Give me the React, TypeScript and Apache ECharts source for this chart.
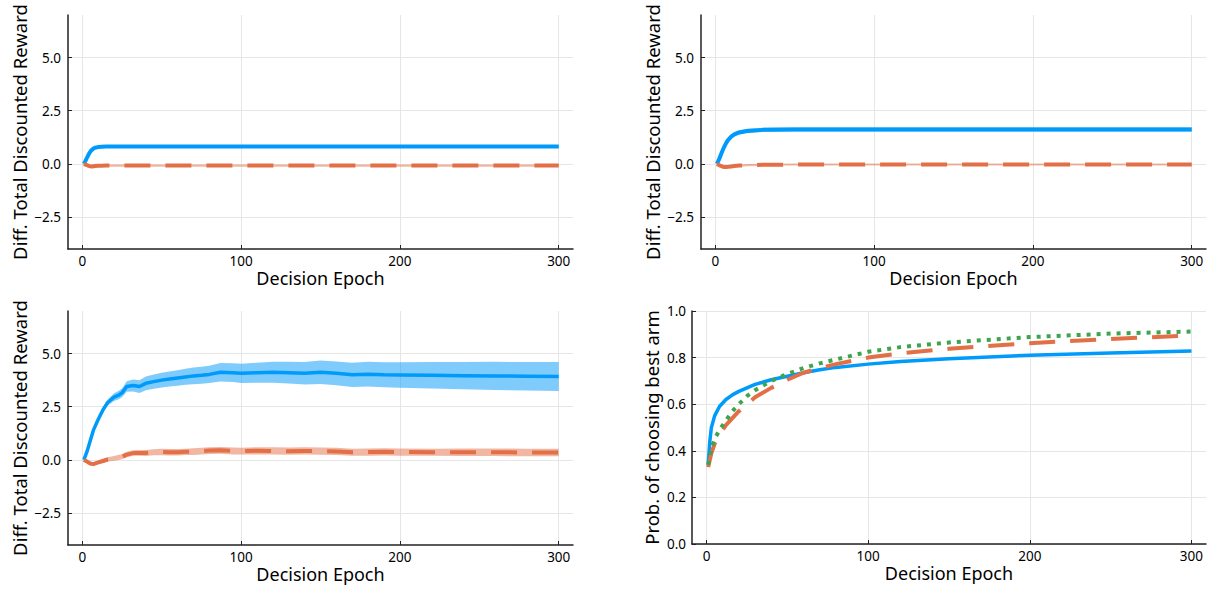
import React, { useEffect, useRef } from "react";
import * as echarts from "echarts";

// ---------- data ----------
const xTicks = [0, 100, 200, 300];
const rewardTicks = [-2.5, 0, 2.5, 5];

// Panel 1 (top-left)
const x1 = [1, 2, 3, 4, 5, 6, 7, 8, 10, 12, 15, 20, 30, 50, 100, 150, 200, 250, 300];
const p1BlueMean = [0, 0.14, 0.3, 0.45, 0.57, 0.66, 0.72, 0.76, 0.79, 0.81, 0.82, 0.82, 0.82, 0.82, 0.82, 0.82, 0.82, 0.82, 0.82];
const p1BlueLow = [0, 0.1, 0.25, 0.39, 0.5, 0.59, 0.65, 0.69, 0.72, 0.74, 0.75, 0.75, 0.75, 0.75, 0.75, 0.75, 0.75, 0.75, 0.75];
const p1BlueHigh = [0, 0.18, 0.35, 0.51, 0.64, 0.73, 0.79, 0.83, 0.86, 0.88, 0.89, 0.89, 0.89, 0.89, 0.89, 0.89, 0.89, 0.89, 0.89];
const p1OrangeMean = [0, -0.03, -0.06, -0.09, -0.11, -0.12, -0.11, -0.1, -0.09, -0.09, -0.08, -0.08, -0.08, -0.08, -0.08, -0.08, -0.08, -0.08, -0.08];
const p1OrangeLow = [0, -0.07, -0.11, -0.14, -0.16, -0.17, -0.16, -0.15, -0.14, -0.14, -0.13, -0.13, -0.13, -0.13, -0.13, -0.13, -0.13, -0.13, -0.13];
const p1OrangeHigh = [0, 0.01, -0.01, -0.04, -0.06, -0.07, -0.06, -0.05, -0.04, -0.04, -0.03, -0.03, -0.03, -0.03, -0.03, -0.03, -0.03, -0.03, -0.03];

// Panel 2 (top-right)
const x2 = [1, 2, 3, 4, 5, 6, 7, 8, 10, 12, 15, 20, 30, 50, 100, 150, 200, 250, 300];
const p2BlueMean = [0, 0.15, 0.33, 0.52, 0.7, 0.86, 1.0, 1.12, 1.28, 1.39, 1.48, 1.55, 1.6, 1.62, 1.62, 1.62, 1.62, 1.62, 1.62];
const p2BlueLow = [0, 0.1, 0.26, 0.44, 0.61, 0.77, 0.9, 1.02, 1.18, 1.29, 1.38, 1.45, 1.5, 1.52, 1.52, 1.52, 1.52, 1.52, 1.52];
const p2BlueHigh = [0, 0.2, 0.4, 0.6, 0.79, 0.95, 1.1, 1.22, 1.38, 1.49, 1.58, 1.65, 1.7, 1.72, 1.72, 1.72, 1.72, 1.72, 1.72];
const p2OrangeMean = [0, -0.04, -0.08, -0.11, -0.14, -0.15, -0.15, -0.14, -0.12, -0.1, -0.08, -0.06, -0.04, -0.03, -0.03, -0.03, -0.03, -0.03, -0.03];
const p2OrangeLow = [0, -0.08, -0.13, -0.16, -0.19, -0.2, -0.2, -0.19, -0.17, -0.15, -0.13, -0.11, -0.09, -0.08, -0.08, -0.08, -0.08, -0.08, -0.08];
const p2OrangeHigh = [0, 0.0, -0.03, -0.06, -0.09, -0.1, -0.1, -0.09, -0.07, -0.05, -0.03, -0.01, 0.01, 0.02, 0.02, 0.02, 0.02, 0.02, 0.02];

// Panel 3 (bottom-left)
const x3 = [1, 3, 5, 7, 10, 13, 16, 20, 23, 25, 28, 32, 36, 40, 45, 50, 55, 60, 65, 70, 75, 80, 87, 95, 100, 110, 120, 130, 140, 150, 160, 170, 180, 190, 200, 220, 240, 260, 280, 300];
const p3BlueMean = [0, 0.4, 0.9, 1.4, 1.9, 2.35, 2.7, 2.95, 3.05, 3.15, 3.45, 3.5, 3.45, 3.6, 3.68, 3.75, 3.8, 3.85, 3.9, 3.95, 3.98, 4.02, 4.12, 4.1, 4.07, 4.1, 4.12, 4.1, 4.07, 4.12, 4.07, 4.0, 4.03, 4.0, 3.99, 3.98, 3.96, 3.95, 3.93, 3.92];
const p3BlueLow = [0, 0.35, 0.83, 1.31, 1.78, 2.22, 2.56, 2.77, 2.85, 2.94, 3.2, 3.22, 3.15, 3.28, 3.34, 3.4, 3.45, 3.49, 3.53, 3.56, 3.58, 3.61, 3.69, 3.66, 3.62, 3.63, 3.63, 3.59, 3.54, 3.57, 3.51, 3.43, 3.45, 3.41, 3.39, 3.36, 3.32, 3.29, 3.26, 3.24];
const p3BlueHigh = [0, 0.45, 0.97, 1.49, 2.02, 2.48, 2.84, 3.13, 3.25, 3.36, 3.7, 3.78, 3.75, 3.92, 4.02, 4.1, 4.16, 4.22, 4.28, 4.34, 4.38, 4.43, 4.55, 4.54, 4.52, 4.57, 4.61, 4.61, 4.6, 4.67, 4.63, 4.57, 4.61, 4.59, 4.59, 4.6, 4.6, 4.61, 4.6, 4.6];
const p3OrangeMean = [0, -0.08, -0.17, -0.2, -0.12, -0.05, 0.02, 0.07, 0.12, 0.15, 0.25, 0.32, 0.33, 0.32, 0.36, 0.37, 0.36, 0.36, 0.38, 0.39, 0.41, 0.44, 0.45, 0.42, 0.41, 0.43, 0.42, 0.41, 0.42, 0.41, 0.4, 0.36, 0.37, 0.38, 0.37, 0.36, 0.36, 0.36, 0.35, 0.35];
const p3OrangeLow = [0, -0.11, -0.22, -0.26, -0.2, -0.14, -0.08, -0.04, 0.0, 0.03, 0.12, 0.19, 0.19, 0.18, 0.22, 0.22, 0.21, 0.21, 0.23, 0.23, 0.25, 0.28, 0.29, 0.26, 0.25, 0.26, 0.25, 0.24, 0.25, 0.24, 0.23, 0.19, 0.2, 0.21, 0.2, 0.19, 0.18, 0.18, 0.17, 0.17];
const p3OrangeHigh = [0, -0.05, -0.12, -0.14, -0.04, 0.04, 0.12, 0.18, 0.24, 0.27, 0.38, 0.45, 0.47, 0.46, 0.5, 0.52, 0.51, 0.51, 0.53, 0.55, 0.57, 0.6, 0.61, 0.58, 0.57, 0.6, 0.59, 0.58, 0.59, 0.58, 0.57, 0.53, 0.54, 0.55, 0.54, 0.53, 0.54, 0.54, 0.53, 0.53];

// Panel 4 (bottom-right)
const x4 = [1, 2, 3, 5, 8, 12, 16, 20, 25, 30, 40, 50, 60, 70, 80, 100, 120, 150, 200, 250, 300];
const p4Blue = [0.34, 0.44, 0.5, 0.55, 0.59, 0.62, 0.64, 0.655, 0.67, 0.685, 0.705, 0.72, 0.735, 0.748, 0.758, 0.772, 0.783, 0.795, 0.81, 0.82, 0.828];
const p4Orange = [0.33, 0.36, 0.39, 0.43, 0.47, 0.51, 0.54, 0.57, 0.6, 0.63, 0.67, 0.705, 0.735, 0.755, 0.772, 0.8, 0.818, 0.838, 0.862, 0.88, 0.895];
const p4Green = [0.34, 0.37, 0.41, 0.45, 0.49, 0.53, 0.57, 0.6, 0.635, 0.66, 0.7, 0.73, 0.755, 0.775, 0.792, 0.825, 0.845, 0.865, 0.888, 0.903, 0.912];

// ---------- style ----------
const BLUE = "#009AFA";
const ORANGE = "#E36F47";
const GREEN = "#3EA44E";
const BLUE_BAND = "rgba(0,154,250,0.5)";
const ORANGE_BAND = "rgba(227,111,71,0.5)";
const FONT = "Noto Sans";
const AXIS_COLOR = "#222";
const GRID_COLOR = "#e6e6e6";

const fmtNum = (v: number) => {
  const s = Math.abs(v).toFixed(1);
  return v < 0 ? "\u2212" + s : s;
};

const pairs = (xs: number[], ys: number[]) => xs.map((x, i) => [x, ys[i]]);

function band(name: string, idx: number, xs: number[], lo: number[], hi: number[], color: string) {
  return {
    type: "custom",
    name,
    xAxisIndex: idx,
    yAxisIndex: idx,
    silent: true,
    z: 1,
    data: xs.map((x, i) => [x, lo[i], hi[i]]),
    encode: { x: 0, y: [1, 2] },
    renderItem: (params: any, api: any) => {
      if (params.dataIndex !== 0) return null;
      const pts: number[][] = [];
      for (let i = 0; i < xs.length; i++) pts.push(api.coord([xs[i], hi[i]]));
      for (let i = xs.length - 1; i >= 0; i--) pts.push(api.coord([xs[i], lo[i]]));
      return { type: "polygon", shape: { points: pts }, style: { fill: color, stroke: "none" } };
    },
  };
}

function line(name: string, idx: number, xs: number[], ys: number[], color: string, lineType: any, width: number, z: number) {
  return {
    type: "line",
    name,
    xAxisIndex: idx,
    yAxisIndex: idx,
    data: pairs(xs, ys),
    showSymbol: false,
    symbol: "none",
    smooth: false,
    z,
    lineStyle: { color, width, type: lineType, cap: "butt", join: "round" },
  };
}

function xAxis(idx: number) {
  return {
    type: "value",
    gridIndex: idx,
    min: -9,
    max: 309,
    name: "Decision Epoch",
    nameLocation: "middle",
    nameGap: 20,
    nameTextStyle: { fontFamily: FONT, fontSize: 18, color: "#000", verticalAlign: "top" },
    axisLine: { show: true, onZero: false, lineStyle: { color: AXIS_COLOR, width: 1.5 } },
    axisTick: { show: true, inside: true, length: 4, customValues: xTicks, lineStyle: { color: AXIS_COLOR, width: 1 } },
    axisLabel: { customValues: xTicks, fontFamily: FONT, fontSize: 13.5, color: "#000", margin: 5 },
    splitLine: { show: true, lineStyle: { color: GRID_COLOR, width: 1 } },
  };
}

function rewardYAxis(idx: number) {
  return {
    type: "value",
    gridIndex: idx,
    min: -4,
    max: 7,
    name: "Diff. Total Discounted Reward",
    nameLocation: "middle",
    nameGap: 39,
    nameTextStyle: { fontFamily: FONT, fontSize: 18.5, color: "#000" },
    axisLine: { show: true, onZero: false, lineStyle: { color: AXIS_COLOR, width: 1.5 } },
    axisTick: { show: true, inside: true, length: 4, customValues: rewardTicks, lineStyle: { color: AXIS_COLOR, width: 1 } },
    axisLabel: { customValues: rewardTicks, formatter: (v: number) => fmtNum(v), fontFamily: FONT, fontSize: 13.5, color: "#000", margin: 7 },
    splitLine: { show: true, lineStyle: { color: GRID_COLOR, width: 1 } },
  };
}

export default function App() {
  const ref = useRef<HTMLDivElement>(null);
  useEffect(() => {
    if (!ref.current) return;
    const chart = echarts.init(ref.current, null, { renderer: "svg" });
    const dash = [26, 15];
    chart.setOption({
      animation: false,
      backgroundColor: "#fff",
      grid: [
        { left: 68, top: 15, width: 505, height: 234 },
        { left: 701, top: 15, width: 505, height: 234 },
        { left: 68, top: 311, width: 505, height: 234 },
        { left: 692, top: 311, width: 514, height: 233 },
      ],
      xAxis: [xAxis(0), xAxis(1), xAxis(2), xAxis(3)],
      yAxis: [
        rewardYAxis(0),
        rewardYAxis(1),
        rewardYAxis(2),
        {
          type: "value",
          gridIndex: 3,
          min: 0,
          max: 1,
          interval: 0.2,
          name: "Prob. of choosing best arm",
          nameLocation: "middle",
          nameGap: 31,
          nameTextStyle: { fontFamily: FONT, fontSize: 18.5, color: "#000" },
          axisLine: { show: true, onZero: false, lineStyle: { color: AXIS_COLOR, width: 1.5 } },
          axisTick: { show: true, inside: true, length: 4, lineStyle: { color: AXIS_COLOR, width: 1 } },
          axisLabel: { formatter: (v: number) => fmtNum(v), fontFamily: FONT, fontSize: 13.5, color: "#000", margin: 6 },
          splitLine: { show: true, lineStyle: { color: GRID_COLOR, width: 1 } },
        },
      ],
      series: [
        band("p1 blue band", 0, x1, p1BlueLow, p1BlueHigh, BLUE_BAND),
        line("p1 blue", 0, x1, p1BlueMean, BLUE, "solid", 4, 3),
        band("p1 orange band", 0, x1, p1OrangeLow, p1OrangeHigh, ORANGE_BAND),
        line("p1 orange", 0, x1, p1OrangeMean, ORANGE, dash, 4, 4),

        band("p2 blue band", 1, x2, p2BlueLow, p2BlueHigh, BLUE_BAND),
        line("p2 blue", 1, x2, p2BlueMean, BLUE, "solid", 4, 3),
        band("p2 orange band", 1, x2, p2OrangeLow, p2OrangeHigh, ORANGE_BAND),
        line("p2 orange", 1, x2, p2OrangeMean, ORANGE, dash, 4, 4),

        band("p3 blue band", 2, x3, p3BlueLow, p3BlueHigh, BLUE_BAND),
        line("p3 blue", 2, x3, p3BlueMean, BLUE, "solid", 3.5, 3),
        band("p3 orange band", 2, x3, p3OrangeLow, p3OrangeHigh, ORANGE_BAND),
        line("p3 orange", 2, x3, p3OrangeMean, ORANGE, dash, 4, 4),

        line("p4 blue", 3, x4, p4Blue, BLUE, "solid", 3.5, 3),
        line("p4 orange", 3, x4, p4Orange, ORANGE, dash, 4, 4),
        line("p4 green", 3, x4, p4Green, GREEN, [4, 6], 4, 5),
      ],
    });
    return () => chart.dispose();
  }, []);
  return (
    <div
      ref={ref}
      style={{ position: "absolute", left: 0, top: 0, width: 1213, height: 590, background: "#fff" }}
    />
  );
}
